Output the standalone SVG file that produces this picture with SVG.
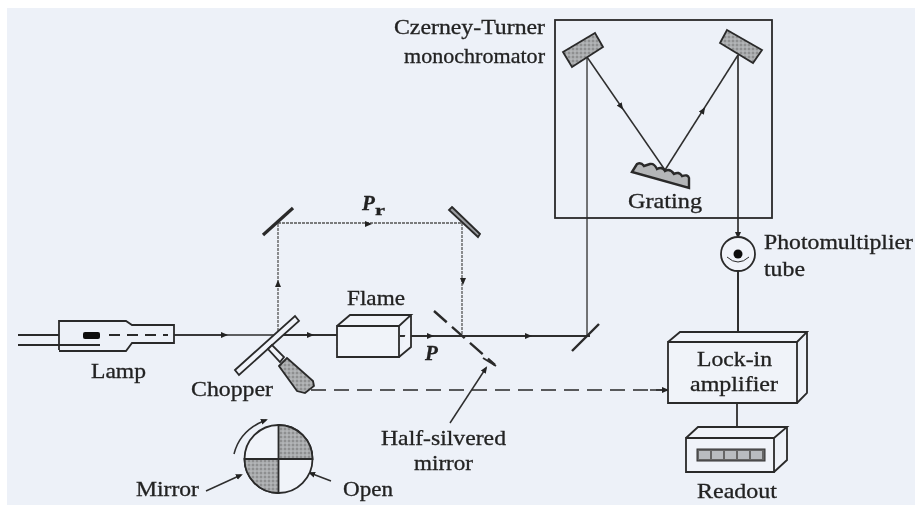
<svg xmlns="http://www.w3.org/2000/svg" width="915" height="505" viewBox="0 0 915 505">
<defs>
<filter id="soft" x="0" y="0" width="100%" height="100%"><feGaussianBlur stdDeviation="0.45"/></filter>
<marker id="a" markerWidth="9" markerHeight="7" refX="5" refY="3" orient="auto" markerUnits="userSpaceOnUse"><path d="M0 0L7 3L0 6z" fill="#222"/></marker>
<pattern id="dots" width="4" height="4" patternUnits="userSpaceOnUse"><rect width="4" height="4" fill="#a8aaac"/><circle cx="1" cy="1" r="0.8" fill="#6c6c6c"/><circle cx="3" cy="3" r="0.6" fill="#d5d7d9"/></pattern>
</defs>
<style>
.s{fill:none;stroke:#2a2a2a;stroke-width:1.8}
.f{fill:#f0f3f9;stroke:#2a2a2a;stroke-width:1.8}
.g{fill:url(#dots);stroke:#2a2a2a;stroke-width:1.8}
.b{fill:none;stroke:#2e2e2e;stroke-width:1.5}
.h{fill:none;stroke:none}
.r{fill:none;stroke:#555;stroke-width:1.3;stroke-dasharray:3 1}
text{font-family:"Liberation Serif",serif;font-size:21px;fill:#222;stroke:#222;stroke-width:0.3}
.i{font-style:italic;font-weight:bold;font-size:21px}
</style>
<rect width="915" height="505" fill="#fff"/>
<rect x="7" y="8" width="908" height="497" fill="#edf1f8"/>
<g filter="url(#soft)">
<g id="connectors">
<path class="b" d="M174 335H277"/><path class="b" d="M174 335H226" marker-end="url(#a)"/>
<path class="b" d="M277 335H337" style="stroke-width:2"/><path class="b" d="M277 335H312" marker-end="url(#a)"/>
<path class="b" d="M400 336H590" style="stroke-width:2.2"/><path class="h" d="M400 336H432" marker-end="url(#a)"/><path class="h" d="M462 336H530" marker-end="url(#a)"/>
<path class="r" d="M278 335V223H462V336"/><path class="h" d="M340 224H370" marker-end="url(#a)"/>
<path class="h" d="M278 300V282" marker-end="url(#a)"/><path class="h" d="M463 260V283" marker-end="url(#a)"/>
<path class="b" d="M587 336V57" style="stroke-width:1.3"/>
<path class="b" d="M587 57L665 170"/><path class="h" d="M587 57L622 108" marker-end="url(#a)"/>
<path class="b" d="M665 170L738 55"/><path class="h" d="M665 170L704 109" marker-end="url(#a)"/>
<path class="b" d="M738 55V237" style="stroke-width:1.7" marker-end="url(#a)"/>
<path class="b" d="M738 271V337" style="stroke-width:2"/>
<path class="b" d="M737 403V430" style="stroke-width:1.8"/>
<path class="s" d="M311 390H668" stroke-dasharray="15 8" style="stroke-width:1.6"/><path class="b" d="M650 390H667" marker-end="url(#a)"/>
<path class="b" d="M450 423L486 368" marker-end="url(#a)"/>
<path class="b" d="M206 491L241 475" marker-end="url(#a)"/>
<path class="b" d="M331 481L310 473" marker-end="url(#a)"/>
</g>
<g id="lamp">
<path class="s" d="M18 335H59M18 345H100M59 350V321H126L132 325H174V343H132L126 351H59"/>
<rect x="83" y="332" width="17" height="7" rx="2" fill="#111"/>
<path class="s" d="M109 335H168" stroke-dasharray="11 7"/>
<text x="91" y="378" textLength="55" lengthAdjust="spacingAndGlyphs">Lamp</text>
</g>
<g id="chopper">
<path class="f" d="M235 370L295 316L299 321L239 375z"/>
<path class="f" d="M268 349L272 345L284 357L280 362z"/>
<path class="g" d="M279 366L287 358L313 381L314 386L305 393L297 391z"/>
<text x="191" y="396" textLength="82" lengthAdjust="spacingAndGlyphs">Chopper</text>
</g>
<g id="flame">
<path class="f" d="M337 326H399V357H337zM337 326L350 315H411L399 326M399 357L411 347V315"/>
<text x="347" y="305" textLength="58" lengthAdjust="spacingAndGlyphs">Flame</text>
<text x="425" y="360" class="i">P</text>
</g>
<g id="reference-mirror-left"><path d="M263 235L293 208" stroke="#2a2a2a" stroke-width="3.2" fill="none"/></g>
<g id="reference-mirror-right"><path class="f" d="M452 207L480 234L478 237L449 210z" style="fill:#9a9ca0"/></g>
<text x="362" y="210" class="i">P</text><text x="375" y="215" style="font-size:14px;font-weight:bold" textLength="10" lengthAdjust="spacingAndGlyphs">r</text>
<g id="half-silvered-mirror">
<path class="s" d="M434 311L495 365" stroke-dasharray="17 7" style="stroke-width:2.4"/>
<path class="s" d="M483 358L496 366"/>
<text x="381" y="445" textLength="125" lengthAdjust="spacingAndGlyphs">Half-silvered</text><text x="414" y="470" textLength="59" lengthAdjust="spacingAndGlyphs">mirror</text>
</g>
<g id="fold-mirror"><path d="M572 351L599 324" stroke="#2a2a2a" stroke-width="2.4"/></g>
<g id="monochromator">
<rect class="s" x="555" y="20" width="217" height="198"/>
<path class="g" d="M563 52L595 33L603 47L572 67z"/>
<path class="g" d="M727 30L762 50L753 63L720 43z"/>
<path class="g" style="fill:#b4b6b8;stroke-width:2.4" d="M632 172L637 164Q641 162 644 166L650 164Q654 163 657 169Q662 166 665 171Q670 168 674 174Q679 171 682 176Q688 174 689 178L689 188Z"/>
<text x="628" y="208" textLength="74" lengthAdjust="spacingAndGlyphs">Grating</text>
<text x="394" y="34" textLength="151" lengthAdjust="spacingAndGlyphs">Czerney-Turner</text>
<text x="404" y="63" textLength="141" lengthAdjust="spacingAndGlyphs">monochromator</text>
</g>
<g id="photomultiplier">
<circle class="f" cx="738" cy="254" r="17"/>
<circle cx="738" cy="254" r="4.5" fill="#111"/>
<path class="s" d="M727 257Q738 267 749 257" style="stroke-width:1"/>
<text x="764" y="249" textLength="149" lengthAdjust="spacingAndGlyphs">Photomultiplier</text><text x="764" y="276" textLength="41" lengthAdjust="spacingAndGlyphs">tube</text>
</g>
<g id="lock-in-amplifier">
<path class="f" d="M668 342H797V403H668zM668 342L680 332H807L797 342M797 403L807 393V332"/>
<text x="697" y="366" textLength="75" lengthAdjust="spacingAndGlyphs">Lock-in</text><text x="690" y="391" textLength="88" lengthAdjust="spacingAndGlyphs">amplifier</text>
</g>
<g id="readout">
<path class="f" d="M686 438H774V472H686zM686 438L698 427H787L774 438M774 472L787 460V427"/>
<rect x="697" y="449" width="68" height="12" fill="#666" stroke="#333"/>
<g fill="#b9bcc0"><rect x="699" y="451" width="11" height="8"/><rect x="712" y="451" width="11" height="8"/><rect x="725" y="451" width="11" height="8"/><rect x="738" y="451" width="11" height="8"/><rect x="751" y="451" width="11" height="8"/></g>
<text x="697" y="498" textLength="80" lengthAdjust="spacingAndGlyphs">Readout</text>
</g>
<g id="wheel">
<circle class="f" cx="278.5" cy="459" r="34"/>
<path class="g" d="M278.5 459V425A34 34 0 0 1 312.500 459zM278.500 459V493A34 34 0 0 1 244.500 459z"/>
<path class="b" d="M234 454Q240 430 266 420" marker-end="url(#a)"/>
<text x="136" y="496" textLength="63" lengthAdjust="spacingAndGlyphs">Mirror</text><text x="343" y="496" textLength="50" lengthAdjust="spacingAndGlyphs">Open</text>
</g>
</g>
</svg>
